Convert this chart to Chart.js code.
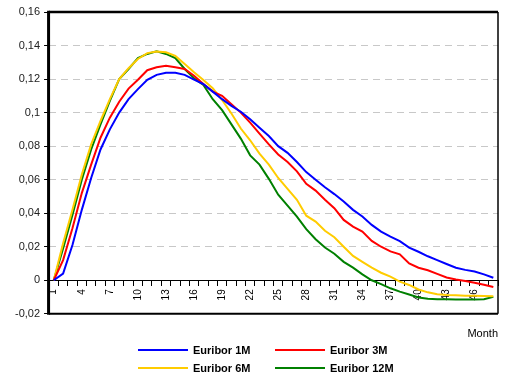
<!DOCTYPE html>
<html><head><meta charset="utf-8">
<script src="https://cdn.jsdelivr.net/npm/chart.js@4/dist/chart.umd.min.js"></script>
<style>
html,body{margin:0;padding:0;background:#fff;}
#wrap{position:relative;width:505px;height:381px;overflow:hidden;}
canvas{display:block;}
.lg{position:absolute;height:12px;display:flex;align-items:center;font:bold 11px "Liberation Sans",Arial,sans-serif;color:#000;white-space:nowrap;}
.ln{display:inline-block;width:50px;height:2px;margin-right:5px;}
</style></head>
<body>
<div id="wrap"><canvas id="c" width="505" height="381"></canvas></div>
<script>
const months = ['1','2','3','4','5','6','7','8','9','10','11','12','13','14','15','16','17','18','19','20','21','22','23','24','25','26','27','28','29','30','31','32','33','34','35','36','37','38','39','40','41','42','43','44','45','46','47','48'];
const yTickValues = [-0.02, 0, 0.02, 0.04, 0.06, 0.08, 0.1, 0.12, 0.14, 0.16];
const seriesNames = ['Euribor 1M', 'Euribor 3M', 'Euribor 6M', 'Euribor 12M'];
const seriesColors = ['#0000ff', '#ff0000', '#ffcc00', '#008000'];
const euribor1M = [0,0.004,0.021,0.042,0.061,0.078,0.090,0.100,0.108,0.114,0.1195,0.1225,0.1237,0.1238,0.1225,0.1197,0.117,0.1125,0.108,0.104,0.1005,0.096,0.091,0.086,0.080,0.076,0.0705,0.0645,0.060,0.0555,0.0514,0.047,0.042,0.038,0.033,0.029,0.026,0.0233,0.0195,0.017,0.0143,0.012,0.0097,0.0075,0.0062,0.0052,0.0035,0.0015];
const euribor3M = [0,0.012,0.031,0.052,0.069,0.085,0.097,0.1065,0.1143,0.1196,0.1253,0.127,0.128,0.127,0.126,0.122,0.117,0.1125,0.110,0.105,0.100,0.094,0.0875,0.081,0.075,0.0705,0.065,0.0575,0.0535,0.048,0.043,0.036,0.032,0.029,0.0235,0.020,0.0172,0.0155,0.010,0.0075,0.006,0.0038,0.0017,0.0005,-0.0005,-0.0015,-0.0027,-0.004];
const euribor6M = [0,0.022,0.042,0.063,0.081,0.095,0.108,0.12,0.1265,0.132,0.1355,0.1365,0.136,0.1338,0.129,0.124,0.1195,0.1145,0.1075,0.0995,0.0905,0.0835,0.0755,0.069,0.061,0.0545,0.048,0.0385,0.035,0.0295,0.0257,0.020,0.0145,0.011,0.0075,0.0045,0.0022,-0.0008,-0.0028,-0.0055,-0.0072,-0.0083,-0.0088,-0.009,-0.0092,-0.0093,-0.0094,-0.0095];
const euribor12M = [0,0.019,0.039,0.06,0.078,0.093,0.107,0.12,0.126,0.1325,0.135,0.1365,0.135,0.1325,0.126,0.1205,0.1165,0.108,0.1015,0.093,0.0845,0.0745,0.069,0.0605,0.051,0.0445,0.038,0.0305,0.0245,0.0195,0.0158,0.011,0.0075,0.0035,0.0,-0.0023,-0.0048,-0.0068,-0.0085,-0.0103,-0.011,-0.0113,-0.0113,-0.0114,-0.0114,-0.0114,-0.0113,-0.0099];
const seriesData = [euribor1M, euribor3M, euribor6M, euribor12M];

const FONT = '"Liberation Sans", Arial, sans-serif';

const frame = {
  id: 'frame',
  afterDraw(c) {
    const {ctx, chartArea: a} = c;
    ctx.save();
    ctx.strokeStyle = '#000';
    ctx.lineWidth = 2.5;
    ctx.beginPath(); ctx.moveTo(a.left, a.top); ctx.lineTo(a.right, a.top); ctx.stroke();
    ctx.lineWidth = 2;
    ctx.beginPath(); ctx.moveTo(a.left, a.bottom); ctx.lineTo(a.right, a.bottom); ctx.stroke();
    ctx.lineWidth = 1.5;
    ctx.beginPath(); ctx.moveTo(a.right, a.top); ctx.lineTo(a.right, a.bottom); ctx.stroke();
    ctx.lineWidth = 3;
    ctx.beginPath(); ctx.moveTo(a.left - 0.5, a.top - 1.2); ctx.lineTo(a.left - 0.5, a.bottom + 1); ctx.stroke();
    ctx.restore();
  }
};

new Chart(document.getElementById('c'), {
  type: 'line',
  data: {
    labels: months,
    datasets: seriesNames.map((n, i) => ({
      label: n, data: seriesData[i], borderColor: seriesColors[i], backgroundColor: seriesColors[i],
      borderWidth: 2, pointRadius: 0, tension: 0, fill: false
    }))
  },
  options: {
    responsive: false, animation: false,
    layout: {padding: {top: 12, left: 11, right: 7, bottom: 40}},
    plugins: {
      legend: {display: false},
      tooltip: {enabled: false},
      title: {display: true, text: 'Month', position: 'bottom', align: 'end', color: '#000',
        font: {size: 11, family: FONT, weight: 'normal'}, padding: {top: 14, bottom: 0}}
    },
    scales: {
      x: {
        type: 'category', position: {y: 0}, offset: true,
        afterFit: s => { s.paddingLeft = 0; s.paddingRight = 0; },
        grid: {drawOnChartArea: false, offset: true, tickLength: 5, color: '#000', tickColor: '#000', tickBorderDash: []},
        border: {display: true, color: '#000', width: 1},
        ticks: {autoSkip: false, maxRotation: 90, minRotation: 90, padding: 4, color: '#000',
          font: {size: 10, family: FONT},
          callback: (v, i) => (i % 3 === 0 ? months[i] : '')}
      },
      y: {
        min: yTickValues[0], max: yTickValues[yTickValues.length - 1],
        afterBuildTicks: s => { s.ticks = yTickValues.map(v => ({value: v})); },
        ticks: {color: '#222', padding: 4, font: {size: 11, family: FONT},
          callback: v => String(Math.round(v * 100) / 100).replace('.', ',')},
        grid: {
          color: ctx => { const v = Math.round(ctx.tick.value * 100); return (v === 0 || v === 16 || v === -2) ? 'rgba(0,0,0,0)' : '#c8c8c8'; },
          tickColor: '#000', tickLength: 5, tickBorderDash: [], lineWidth: 1
        },
        border: {display: false, dash: [7, 5]}
      }
    }
  },
  plugins: [frame]
});

const wrap = document.getElementById('wrap');
const legendPos = [[138, 344], [275, 344], [138, 362], [275, 362]];
seriesNames.forEach((n, i) => {
  const d = document.createElement('div');
  d.className = 'lg';
  d.style.left = legendPos[i][0] + 'px';
  d.style.top = legendPos[i][1] + 'px';
  const s = document.createElement('span');
  s.className = 'ln';
  s.style.background = seriesColors[i];
  d.appendChild(s);
  d.appendChild(document.createTextNode(n));
  wrap.appendChild(d);
});
</script>
</body></html>
